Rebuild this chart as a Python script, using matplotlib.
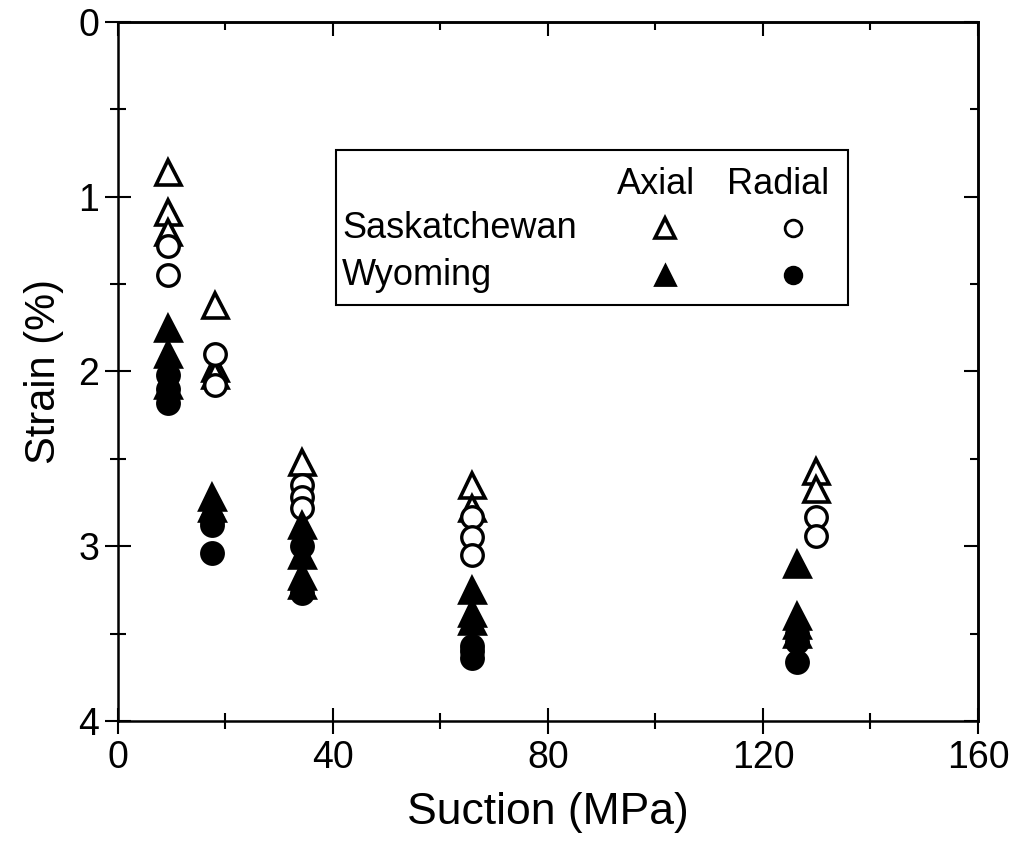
import matplotlib.pyplot as plt
from matplotlib.patches import Rectangle

plt.rcParams['font.family'] = ['Liberation Sans', 'DejaVu Sans']

# Saskatchewan, axial strain (open triangles)
sask_axial_x = [9.3, 9.3, 9.3, 18.0, 18.0, 18.0, 34.3, 65.9, 65.9, 129.8, 129.8]
sask_axial_y = [0.86, 1.09, 1.2, 1.62, 1.98, 2.02, 2.52, 2.65, 2.78, 2.57, 2.67]

# Saskatchewan, radial strain (open circles)
sask_radial_x = [9.3, 9.3, 18.0, 18.0, 34.3, 34.3, 34.3, 65.9, 65.9, 65.9, 129.8, 129.8]
sask_radial_y = [1.28, 1.45, 1.9, 2.08, 2.65, 2.72, 2.78, 2.83, 2.95, 3.05, 2.83, 2.94]

# Wyoming, axial strain (filled triangles)
wyo_axial_x = [9.3, 9.3, 9.3, 17.5, 17.5, 34.3, 34.3, 34.3, 34.3,
               65.9, 65.9, 65.9, 126.3, 126.3, 126.3, 126.3]
wyo_axial_y = [1.75, 1.9, 2.08, 2.72, 2.78, 2.88, 3.05, 3.17, 3.22,
               3.25, 3.38, 3.43, 3.1, 3.4, 3.45, 3.5]

# Wyoming, radial strain (filled circles)
wyo_radial_x = [9.3, 9.3, 9.3, 17.5, 17.5, 17.5, 34.3, 34.3,
                65.9, 65.9, 65.9, 126.3, 126.3, 126.3]
wyo_radial_y = [2.02, 2.1, 2.18, 2.85, 2.88, 3.04, 3.0, 3.27,
                3.57, 3.6, 3.64, 3.5, 3.55, 3.66]

fig = plt.figure(figsize=(10.16, 8.52), dpi=100)
ax = fig.add_axes([0.1161, 0.1538, 0.8465, 0.8204])

tri = dict(marker='^', ms=18, mew=2.6, ls='none', color='black')
circ = dict(marker='o', ms=15.5, mew=2.4, ls='none', color='black')

ax.plot(sask_axial_x, sask_axial_y, mfc='white', **tri)
ax.plot(sask_radial_x, sask_radial_y, mfc='white', **circ)
ax.plot(wyo_axial_x, wyo_axial_y, mfc='black', **tri)
ax.plot(wyo_radial_x, wyo_radial_y, mfc='black', **circ)

ax.set_xlim(0, 160)
ax.set_ylim(4, 0)
ax.set_xticks([0, 40, 80, 120, 160])
ax.set_xticks([20, 60, 100, 140], minor=True)
ax.set_yticks([0, 1, 2, 3, 4])
ax.set_yticks([0.5, 1.5, 2.5, 3.5], minor=True)

for s in ax.spines.values():
    s.set_linewidth(1.8)

ax.tick_params(which='major', direction='inout', length=19, width=1.5,
               labelsize=27, pad=4)
ax.tick_params(which='minor', direction='inout', length=11, width=1.5)

# top / right ticks point inwards only
top = ax.secondary_xaxis('top')
top.set_xticks([0, 40, 80, 120, 160])
top.set_xticks([20, 60, 100, 140], minor=True)
top.tick_params(which='major', direction='in', length=10, width=1.5, labeltop=False)
top.tick_params(which='minor', direction='in', length=6, width=1.5)
right = ax.secondary_yaxis('right')
right.set_yticks([0, 1, 2, 3, 4])
right.set_yticks([0.5, 1.5, 2.5, 3.5], minor=True)
right.tick_params(which='major', direction='in', length=10, width=1.5, labelright=False)
right.tick_params(which='minor', direction='in', length=6, width=1.5)
top.spines['top'].set_linewidth(1.8)
right.spines['right'].set_linewidth(1.8)

ax.set_xlabel('Suction (MPa)', fontsize=32, labelpad=12)
ax.set_ylabel('Strain (%)', fontsize=30, labelpad=10)

# hand-made legend box
ax.add_patch(Rectangle((0.2535, 0.595), 0.5955, 0.222, transform=ax.transAxes,
                       fill=False, lw=1.5, ec='black', zorder=5))
ax.text(0.6256, 0.767, 'Axial', transform=ax.transAxes, fontsize=26,
        ha='center', va='center')
ax.text(0.767, 0.767, 'Radial', transform=ax.transAxes, fontsize=26,
        ha='center', va='center')
ax.text(0.2605, 0.705, 'Saskatchewan', transform=ax.transAxes, fontsize=26,
        ha='left', va='center')
ax.text(0.2605, 0.638, 'Wyoming', transform=ax.transAxes, fontsize=26,
        ha='left', va='center')
ax.plot([0.636], [0.705], transform=ax.transAxes, marker='^', ms=14, mew=2.6,
        mfc='white', color='black', ls='none')
ax.plot([0.785], [0.705], transform=ax.transAxes, marker='o', ms=12, mew=2,
        mfc='white', color='black', ls='none')
ax.plot([0.636], [0.638], transform=ax.transAxes, marker='^', ms=14, mew=2,
        mfc='black', color='black', ls='none')
ax.plot([0.785], [0.638], transform=ax.transAxes, marker='o', ms=12, mew=2,
        mfc='black', color='black', ls='none')

fig.savefig('out.png', dpi=100)
